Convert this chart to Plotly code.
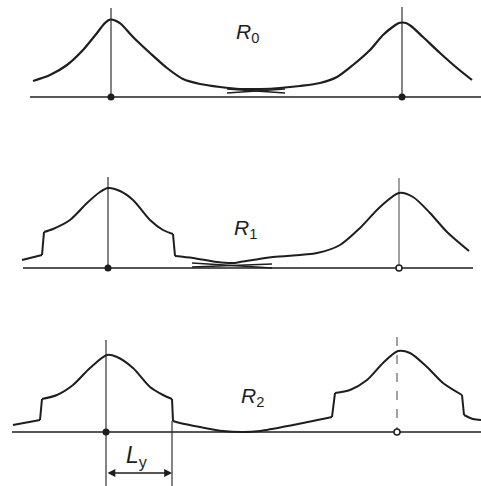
import plotly.graph_objects as go

# ---- data (pixel-like coordinates, y grows downward) ----
# Panel R0: one smooth curve
r0_x = [33, 50, 67, 83, 97, 104, 108, 111, 115, 121, 133, 150, 167, 183, 200, 220, 240, 260, 280, 300, 320, 337, 353, 370, 383, 394, 399, 402, 406, 411, 423, 440, 457, 472]
r0_y = [81, 75, 65, 50, 33, 24, 20.5, 19.5, 20.5, 24, 37, 53, 68, 79, 84, 87, 89, 89, 88, 86, 83, 77, 65, 50, 35, 26, 23, 22.5, 23, 26, 37, 53, 68, 80]
r0_base = 97
r0_base_x = [30, 481]
r0_peaks = [111, 402]
r0_vtop = [8, 7]
r0_cross = [[227, 285], [89, 93], [227, 285], [93, 89]]

# Panel R1: smooth pieces joined by vertical steps
r1_pieces_x = [
    [22, 42],
    [44, 53, 70, 87, 100, 108, 120, 133, 150, 163, 173],
    [175, 193, 217, 233, 240, 273, 317, 340, 360, 380, 399, 413, 430, 447, 469],
]
r1_pieces_y = [
    [260, 255],
    [232, 229, 220, 203, 192, 188, 191, 200, 220, 230, 234],
    [256, 258, 262, 263, 262, 257, 253, 245, 228, 207, 193, 197, 213, 232, 251],
]
r1_base = 268
r1_base_x = [23, 473]
r1_peaks = [108, 399]
r1_vtop = [177, 178]
r1_cross = [[192, 272], [263, 268], [192, 272], [267, 264]]

# Panel R2: smooth pieces joined by vertical steps
r2_pieces_x = [
    [13, 40],
    [42, 57, 73, 90, 107, 117, 133, 150, 163, 172],
    [173, 180, 200, 223, 243, 260, 293, 332],
    [335, 350, 367, 383, 398, 410, 427, 443, 462],
    [464, 473, 481],
]
r2_pieces_y = [
    [425, 420],
    [399, 395, 385, 368, 355, 357, 368, 387, 395, 399],
    [421, 423, 427, 431, 432, 431, 425, 417],
    [393, 390, 380, 363, 351, 353, 367, 383, 395],
    [415, 419, 420],
]
r2_base = 432
r2_base_x = [12, 481]
r2_peaks = [106, 397]
r2_vtop = [340, 337]

# Dimension L_y
ly_x = [106, 172]
ly_y = 473
ly_bottom = 486

labels = ["<i>R</i><sub>0</sub>", "<i>R</i><sub>1</sub>", "<i>R</i><sub>2</sub>"]
label_pos = [(247, 33), (245, 229), (252, 397)]

INK = "#1e1e1e"

fig = go.Figure()

def smooth(x, y, w=2.0, color=INK):
    fig.add_trace(go.Scatter(x=x, y=y, mode="lines", hoverinfo="skip",
                             line=dict(color=color, width=w, shape="spline", smoothing=0.8)))

def straight(x, y, w=1.2, dash=None, color=INK):
    fig.add_trace(go.Scatter(x=x, y=y, mode="lines", hoverinfo="skip",
                             line=dict(color=color, width=w, dash=dash)))

def stepped(px, py, w=2.0):
    for i, (xs, ys) in enumerate(zip(px, py)):
        if len(xs) > 2:
            smooth(xs, ys, w)
        else:
            straight(xs, ys, w)
        if i + 1 < len(px):
            straight([xs[-1], px[i + 1][0]], [ys[-1], py[i + 1][0]], w)

# R0
straight(r0_base_x, [r0_base, r0_base], 1.6)
for px, top in zip(r0_peaks, r0_vtop):
    straight([px, px], [top, r0_base], 1.1)
straight(r0_cross[0], r0_cross[1], 1.3)
straight(r0_cross[2], r0_cross[3], 1.3)
smooth(r0_x, r0_y, 2.2)

# R1
straight(r1_base_x, [r1_base, r1_base], 1.4)
straight([r1_peaks[0]] * 2, [r1_vtop[0], r1_base], 1.1)
straight([r1_peaks[1]] * 2, [r1_vtop[1], r1_base], 1.0, color="#444")
straight(r1_cross[0], r1_cross[1], 1.3)
straight(r1_cross[2], r1_cross[3], 1.3)
stepped(r1_pieces_x, r1_pieces_y, 2.0)

# R2
straight(r2_base_x, [r2_base, r2_base], 1.4)
straight([r2_peaks[0]] * 2, [r2_vtop[0], ly_bottom], 1.1)
straight([r2_peaks[1]] * 2, [r2_vtop[1], r2_base], 1.0, dash="dash", color="#444")
straight([ly_x[1], ly_x[1]], [r2_pieces_y[2][0], ly_bottom], 1.1)
stepped(r2_pieces_x, r2_pieces_y, 2.0)

# Dots on the axes
fig.add_trace(go.Scatter(
    x=[r0_peaks[0], r0_peaks[1], r1_peaks[0], r2_peaks[0]],
    y=[r0_base, r0_base, r1_base, r2_base],
    mode="markers", hoverinfo="skip",
    marker=dict(size=7, color=INK)))
fig.add_trace(go.Scatter(
    x=[r1_peaks[1], r2_peaks[1]], y=[r1_base, r2_base],
    mode="markers", hoverinfo="skip",
    marker=dict(size=6, color="white", line=dict(color=INK, width=1.5))))

# Dimension arrow L_y
fig.add_annotation(x=ly_x[1], y=ly_y, ax=ly_x[0], ay=ly_y, xref="x", yref="y",
                   axref="x", ayref="y", text="", showarrow=True,
                   arrowhead=2, arrowside="end+start", arrowsize=1.2,
                   arrowwidth=1.3, arrowcolor=INK)
fig.add_annotation(x=137, y=456, xref="x", yref="y", showarrow=False,
                   text="<i>L</i><sub>y</sub>",
                   font=dict(family="Liberation Sans", size=23, color=INK))

for t, (lx, lyy) in zip(labels, label_pos):
    fig.add_annotation(x=lx, y=lyy, xref="x", yref="y", showarrow=False, text=t,
                       font=dict(family="Liberation Sans", size=21, color=INK))

fig.update_layout(
    width=481, height=486,
    margin=dict(l=0, r=0, t=0, b=0),
    paper_bgcolor="white", plot_bgcolor="white",
    showlegend=False,
    xaxis=dict(range=[0, 481], visible=False, fixedrange=True),
    yaxis=dict(range=[486, 0], visible=False, fixedrange=True),
)

fig.write_html("out.html", config={"displayModeBar": False},
               post_script="document.body.style.margin='0';document.body.style.overflow='hidden';")
